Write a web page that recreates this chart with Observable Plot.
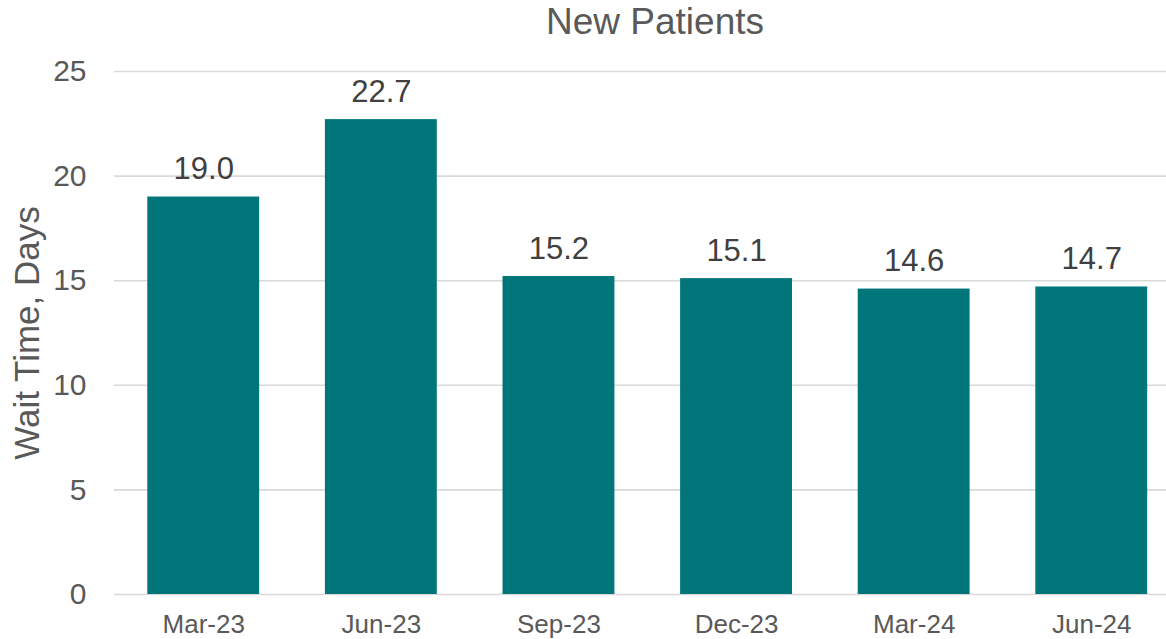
<!DOCTYPE html>
<html>
<head>
<meta charset="utf-8">
<script src="https://cdn.jsdelivr.net/npm/d3@7"></script>
<script src="https://cdn.jsdelivr.net/npm/@observablehq/plot@0.6"></script>
<style>
  html, body { margin: 0; padding: 0; background: #fff; overflow: hidden; }
  body { width: 1166px; height: 639px; font-family: "Liberation Sans", Arial, sans-serif; }
  #title { height: 44px; line-height: 44px; font-size: 37px; color: #595959; text-align: center; padding-left: 144px; box-sizing: border-box; width: 1166px; }
  svg { display: block; overflow: hidden; }
</style>
</head>
<body>
<div id="title">New Patients</div>
<div id="chart"></div>
<script>
const quarters = ["Mar-23", "Jun-23", "Sep-23", "Dec-23", "Mar-24", "Jun-24"];
const waitDays = [19.0, 22.7, 15.2, 15.1, 14.6, 14.7];
const yTicks = [0, 5, 10, 15, 20, 25];

const data = quarters.map((q, i) => ({quarter: q, days: waitDays[i]}));

const chart = Plot.plot({
  width: 1166,
  height: 595,
  marginTop: 27,
  marginBottom: 45,
  marginLeft: 114,
  marginRight: -14.5,
  style: {fontFamily: '"Liberation Sans", Arial, sans-serif', color: "#595959", background: "#fff"},
  x: {domain: quarters, paddingInner: 0.37, paddingOuter: 0.1875, round: false, label: null},
  y: {domain: [0, 25], label: null},
  marks: [
    Plot.gridY(yTicks, {stroke: "#d9d9d9", strokeOpacity: 1, strokeWidth: 1.6}),
    Plot.barY(data, {x: "quarter", y: "days", fill: "#00767b"}),
    Plot.text(data, {x: "quarter", y: "days", text: d => d.days.toFixed(1), lineAnchor: "bottom", dy: -18, fontSize: 31, fill: "#404040"}),
    Plot.axisY(yTicks, {tickSize: 0, tickPadding: 28, fontSize: 30, label: null, fill: "#595959"}),
    Plot.axisY({ticks: [], label: "Wait Time, Days", labelAnchor: "center", labelArrow: "none", labelOffset: 100, fontSize: 35, fill: "#595959"}),
    Plot.axisX({tickSize: 0, tickPadding: 20, fontSize: 26, label: null, fill: "#595959"})
  ]
});
document.getElementById("chart").appendChild(chart);
</script>
</body>
</html>
